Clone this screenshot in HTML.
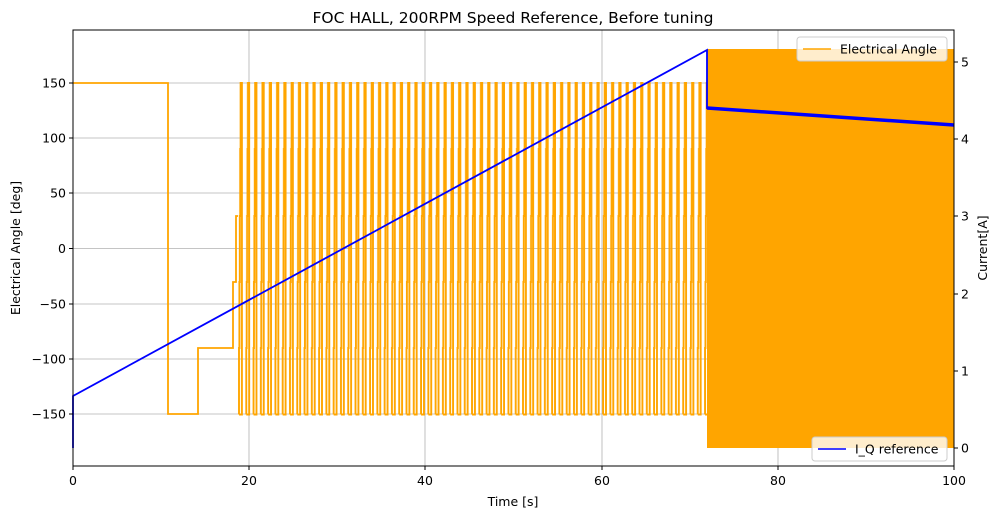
<!DOCTYPE html>
<html><head><meta charset="utf-8"><style>
html,body{margin:0;padding:0;background:#fff;}
svg{display:block;font-family:"DejaVu Sans","Liberation Sans",sans-serif;}
</style></head><body>
<svg width="999" height="518" viewBox="0 0 999 518" xmlns="http://www.w3.org/2000/svg">
<defs>
<pattern id="pul" patternUnits="userSpaceOnUse" x="238" y="0" width="7.282" height="518">
<path d="M1,414.5 V348 H1.4 V282 H1.8 V216 H2.2 V149 H2.6 V83 H3.9 V414.5 H1" fill="none" stroke="#ffa500" stroke-width="1.9"/>
</pattern>
</defs>
<rect width="999" height="518" fill="#fff"/>
<g stroke="#b0b0b0" stroke-width="0.8">
<line x1="249" y1="30" x2="249" y2="466"/><line x1="425" y1="30" x2="425" y2="466"/>
<line x1="602" y1="30" x2="602" y2="466"/><line x1="778" y1="30" x2="778" y2="466"/>
<line x1="73" y1="83" x2="954" y2="83"/><line x1="73" y1="138" x2="954" y2="138"/>
<line x1="73" y1="193" x2="954" y2="193"/><line x1="73" y1="248.5" x2="954" y2="248.5"/>
<line x1="73" y1="304" x2="954" y2="304"/><line x1="73" y1="359" x2="954" y2="359"/>
<line x1="73" y1="414" x2="954" y2="414"/>
</g>
<path d="M73,83 H168 V414 H198 V348 H233 V282 H236 V216 H238" fill="none" stroke="#ffa500" stroke-width="1.8"/>
<rect x="238" y="80" width="469" height="337" fill="url(#pul)"/>
<rect x="707" y="49" width="247" height="399" fill="#ffa500"/>
<path d="M73,448 V396 L707,50 V108 L954,125" fill="none" stroke="#0000ff" stroke-width="1.8"/>
<path d="M707,108 L954,125" fill="none" stroke="#0000ff" stroke-width="3.5"/>
<rect x="73" y="30" width="881" height="436" fill="none" stroke="#000" stroke-width="1"/>
<g stroke="#000" stroke-width="1">
<line x1="73" y1="466" x2="73" y2="470"/><line x1="249" y1="466" x2="249" y2="470"/><line x1="425" y1="466" x2="425" y2="470"/>
<line x1="602" y1="466" x2="602" y2="470"/><line x1="778" y1="466" x2="778" y2="470"/><line x1="954" y1="466" x2="954" y2="470"/>
<line x1="69" y1="83" x2="73" y2="83"/><line x1="69" y1="138" x2="73" y2="138"/><line x1="69" y1="193" x2="73" y2="193"/>
<line x1="69" y1="248.5" x2="73" y2="248.5"/><line x1="69" y1="304" x2="73" y2="304"/><line x1="69" y1="359" x2="73" y2="359"/><line x1="69" y1="414" x2="73" y2="414"/>
<line x1="954" y1="448" x2="958" y2="448"/><line x1="954" y1="371" x2="958" y2="371"/><line x1="954" y1="294" x2="958" y2="294"/>
<line x1="954" y1="216" x2="958" y2="216"/><line x1="954" y1="139" x2="958" y2="139"/><line x1="954" y1="62" x2="958" y2="62"/>
</g>
<g font-size="12.5" fill="#000">
<g text-anchor="middle">
<text x="73" y="485">0</text><text x="249" y="485">20</text><text x="425" y="485">40</text>
<text x="602" y="485">60</text><text x="778" y="485">80</text><text x="954" y="485">100</text>
</g>
<g text-anchor="end">
<text x="66" y="87.5">150</text><text x="66" y="142.5">100</text><text x="66" y="197.5">50</text><text x="66" y="253">0</text>
<text x="66" y="308.5">−50</text><text x="66" y="363.5">−100</text><text x="66" y="418.5">−150</text>
</g>
<g>
<text x="961" y="452.5">0</text><text x="961" y="375.5">1</text><text x="961" y="298.5">2</text>
<text x="961" y="220.5">3</text><text x="961" y="143.5">4</text><text x="961" y="66.5">5</text>
</g>
<text x="513" y="506" text-anchor="middle">Time [s]</text>
<text transform="translate(20,248) rotate(-90)" text-anchor="middle">Electrical Angle [deg]</text>
<text transform="translate(987,248) rotate(-90)" text-anchor="middle">Current[A]</text>
<text x="513" y="23" text-anchor="middle" font-size="15.5">FOC HALL, 200RPM Speed Reference, Before tuning</text>
</g>
<g>
<rect x="797" y="37" width="150" height="24" rx="3" fill="#fff" fill-opacity="0.8" stroke="#ccc"/>
<line x1="803" y1="49" x2="831" y2="49" stroke="#ffa500" stroke-width="1.5"/>
<text x="840" y="53.5" font-size="12.5">Electrical Angle</text>
<rect x="812" y="437" width="135" height="24" rx="3" fill="#fff" fill-opacity="0.8" stroke="#ccc"/>
<line x1="818" y1="449" x2="846" y2="449" stroke="#0000ff" stroke-width="1.5"/>
<text x="855" y="453.5" font-size="12.5">I_Q reference</text>
</g>
</svg>
</body></html>
